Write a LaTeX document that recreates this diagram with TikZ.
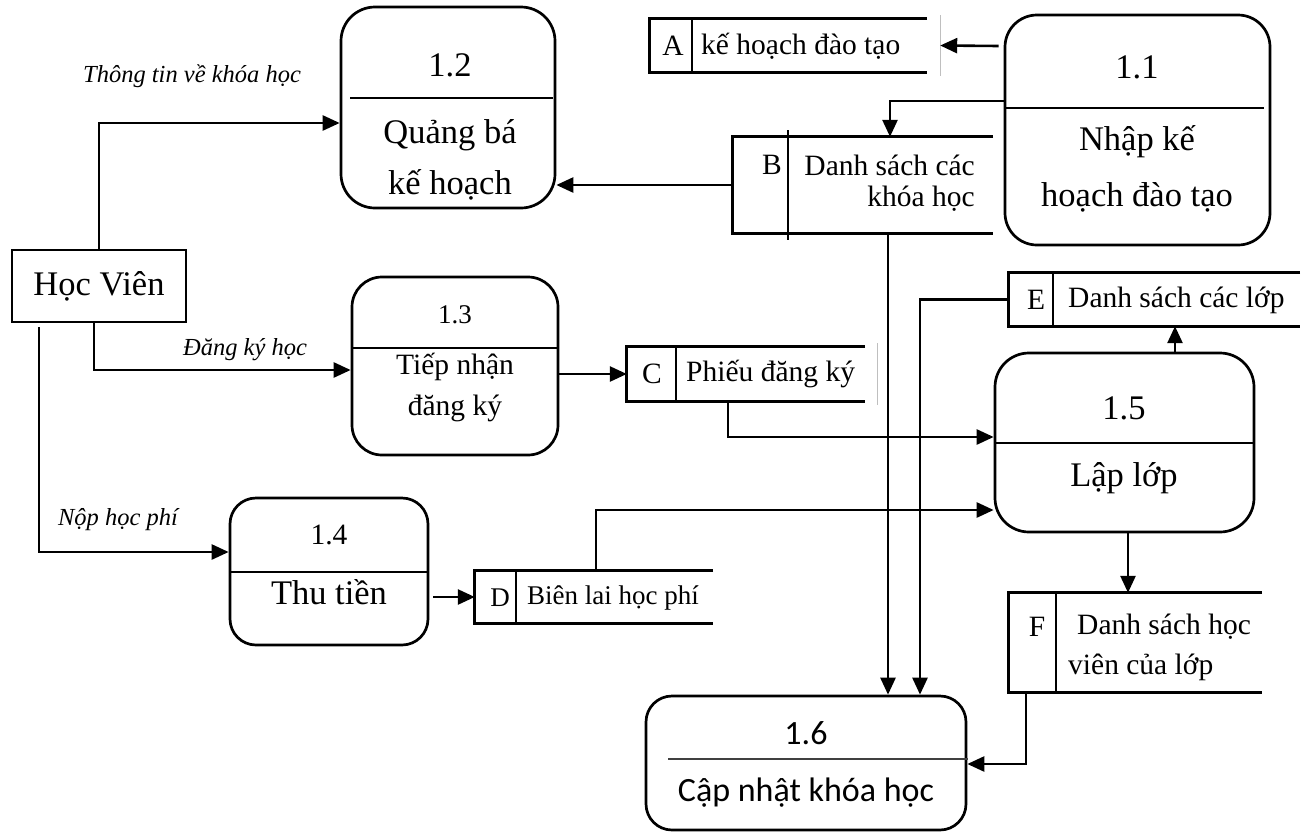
\documentclass[tikz,border=0pt]{standalone}
\usepackage{fontspec}
\setmainfont{Liberation Serif}
\newfontfamily\procsans{Carlito}
\usetikzlibrary{arrows.meta}
\begin{document}
\begin{tikzpicture}[x=1pt,y=-1pt,
  proc/.style={draw,line width=2.7pt,inner sep=0pt,rounded corners=#1},
  proc/.default=30pt,
  entity/.style={draw,line width=2.7pt,inner sep=0pt},
  store/.style={inner sep=0pt,draw=none},
  edge/.style={line width=2.7pt,line join=miter},
  sep/.style={line width=1.6pt},
  flow/.style={line width=2.6pt,-{Triangle[length=17pt,width=15pt]}},
  big/.style={font=\fontsize{34.5}{38}\selectfont,inner sep=0pt},
  mid/.style={font=\fontsize{29.5}{32}\selectfont,inner sep=0pt},
  small/.style={font=\fontsize{27}{30}\selectfont,inner sep=0pt},
  lbl/.style={font=\fontsize{24.5}{27}\selectfont\itshape,inner sep=0pt},
  sans/.style={font=\fontsize{34}{38}\selectfont\procsans,inner sep=0pt}]
\useasboundingbox (0,0) rectangle (1304,833);

% external entity
\node[entity,minimum width=174pt,minimum height=72pt] (hv) at (99,286) {};
\node[big] (thv) at (hv) {Học Viên};

% processes
\node[proc=34pt,minimum width=214pt,minimum height=201pt] (p12) at (448,107.5) {};
\draw[sep] (350,98) -- (553,98);
\node[big] (t12a) at (450,65) {1.2};
\node[big] (t12b) at (450,135) {Quảng bá};
\node[big] (t12c) at (450,185) {kế hoạch};

\node[proc=32pt,minimum width=265pt,minimum height=230pt] (p11) at (1137.5,130) {};
\draw[sep] (1005,108) -- (1264,108);
\node[big] (t11a) at (1137,67) {1.1};
\node[big] (t11b) at (1137,142) {Nhập kế};
\node[big] (t11c) at (1137,197) {hoạch đào tạo};

\node[proc=30pt,minimum width=206pt,minimum height=178pt] (p13) at (455,366) {};
\draw[sep] (353,348) -- (557,348);
\node[small] (t13a) at (455,315) {1.3};
\node[mid] (t13b) at (455,367) {Tiếp nhận};
\node[mid] (t13c) at (455,408) {đăng ký};

\node[proc=26pt,minimum width=198pt,minimum height=147pt] (p14) at (329,571.5) {};
\draw[sep] (231,572) -- (427,572);
\node[mid] (t14a) at (329,535) {1.4};
\node[big] (t14b) at (329,592) {Thu tiền};

\node[proc=34pt,minimum width=259pt,minimum height=179pt] (p15) at (1124.5,442.5) {};
\draw[sep] (996,443) -- (1253,443);
\node[big] (t15a) at (1124,408) {1.5};
\node[big] (t15b) at (1124,478) {Lập lớp};

\node[proc=26pt,minimum width=320pt,minimum height=134pt] (p16) at (806,763) {};
\draw[sep,black!75] (668,759) -- (968,759);
\node[sans] (t16a) at (806,733) {1.6};
\node[sans] (t16b) at (806,793) {Cập nhật khóa học};

% data stores
\node[store,minimum width=277pt,minimum height=53pt] (sA) at (788.5,45.5) {};
\draw[edge] (sA.north east) -- (sA.north west) -- (sA.south west) -- (sA.south east);
\draw[sep] (692,20) -- (692,71);
\draw[line width=1pt,black!25] (940,15) -- (940,76);
\node[mid] (tA1) at (673,46) {A};
\node[mid,anchor=west] (tA2) at (701,46) {kế hoạch đào tạo};

\node[store,minimum width=260pt,minimum height=96pt] (sB) at (863,185) {};
\draw[edge] (sB.north east) -- (sB.north west) -- (sB.south west) -- (sB.south east);
\draw[edge] (788,130) -- (788,240);
\node[mid] (tB1) at (772,165) {B};
\node[mid,anchor=east] (tB2) at (975,165) {Danh sách các};
\node[mid,anchor=east] (tB3) at (975,199) {khóa học};

\node[store,minimum width=238pt,minimum height=54pt] (sC) at (746,374) {};
\draw[edge] (sC.north east) -- (sC.north west) -- (sC.south west) -- (sC.south east);
\draw[sep] (676,348) -- (676,400);
\draw[line width=1pt,black!25] (877,343) -- (877,405);
\node[mid] (tC1) at (652,374) {C};
\node[mid,anchor=west] (tC2) at (686,374) {Phiếu đăng ký};

\node[store,minimum width=238pt,minimum height=52pt] (sD) at (594,597) {};
\draw[edge] (sD.north east) -- (sD.north west) -- (sD.south west) -- (sD.south east);
\draw[sep] (516,572) -- (516,622);
\node[small] (tD1) at (500,598) {D};
\node[small,anchor=west] (tD2) at (527,598) {Biên lai học phí};

\node[store,minimum width=291pt,minimum height=53pt] (sE) at (1154.5,299.5) {};
\draw[edge] (sE.north east) -- (sE.north west) -- (sE.south west) -- (sE.south east);
\draw[sep] (1053,274) -- (1053,325);
\node[mid] (tE1) at (1036,300) {E};
\node[mid,anchor=west] (tE2) at (1068,300) {Danh sách các lớp};

\node[store,minimum width=253pt,minimum height=99pt] (sF) at (1135.5,642.5) {};
\draw[edge] (sF.north east) -- (sF.north west) -- (sF.south west) -- (sF.south east);
\draw[edge] (1056,593) -- (1056,692);
\node[mid] (tF1) at (1037,627) {F};
\node[mid,anchor=west] (tF2) at (1077,627) {Danh sách học};
\node[mid,anchor=west] (tF3) at (1068,667) {viên của lớp};

% data flows
\draw[flow] (hv.north) |- ([yshift=-15.5pt]p12.west);
\node[lbl] (l1) at (192,76) {Thông tin về khóa học};
\draw[flow] ([xshift=-5pt]hv.south) |- ([yshift=-4pt]p13.west);
\node[lbl] (l2) at (245,350) {Đăng ký học};
\draw[flow] ([xshift=-60pt,yshift=-4pt]hv.south) |- ([yshift=19.5pt]p14.west);
\node[lbl] (l3) at (118,520) {Nộp học phí};

\draw[flow] ([xshift=-5pt,yshift=84pt]p11.west) -- ([xshift=13pt]sA.east);

\coordinate (bIn) at ([xshift=27pt]sB.north);
\draw[flow] ([yshift=29pt]p11.west) -| (bIn);
\draw[flow] (sB.west) -- (p12.east |- sB.west);

\coordinate (bOut) at ([xshift=25pt]sB.south);
\draw[flow] (bOut) -- (bOut |- p16.north);

\coordinate (eIn) at ([xshift=114pt]p16.north);
\draw[flow] (sE.west) -| (eIn);
\coordinate (eUp) at ([xshift=50.5pt]p15.north);
\draw[flow] (eUp) -- (eUp |- sE.south);

\draw[flow] (p13.east |- sC.west) -- (sC.west);
\coordinate (cOut) at ([xshift=-18pt]sC.south);
\draw[flow] (cOut) |- ([yshift=5.5pt]p15.west);

\draw[flow] ([xshift=4pt]p14.east |- sD.west) -- (sD.west);
\coordinate (dOut) at ([xshift=2pt]sD.north);
\draw[flow] (dOut) |- ([yshift=-67.5pt]p15.west);

\coordinate (fIn) at ([xshift=3.5pt]p15.south);
\draw[flow] (fIn) -- (fIn |- sF.north);
\coordinate (fOut) at ([xshift=-109.5pt]sF.south);
\draw[flow] (fOut) |- ([yshift=-1pt]p16.east);
\end{tikzpicture}
\end{document}
